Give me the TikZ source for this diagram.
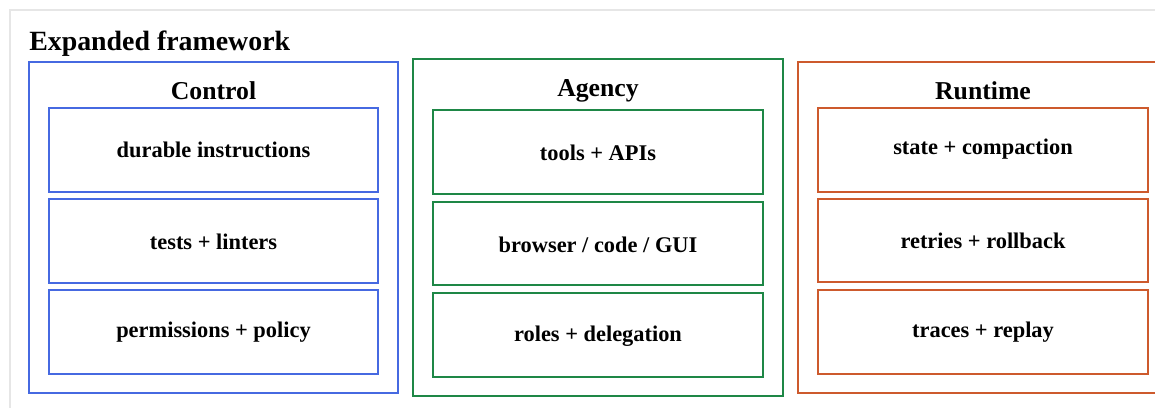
\documentclass[tikz,border=0pt]{standalone}
\usepackage{fontspec}
\setmainfont{Liberation Serif}
\definecolor{cblue}{RGB}{70,105,225}
\definecolor{cgreen}{RGB}{30,135,70}
\definecolor{corange}{RGB}{205,90,45}
\definecolor{frame}{RGB}{230,230,230}
\begin{document}
\begin{tikzpicture}[x=0.75pt,y=-0.75pt,
  titlefont/.style={font=\fontsize{20.9}{24}\selectfont\bfseries},
  headfont/.style={font=\fontsize{19.3}{22}\selectfont\bfseries},
  itemfont/.style={font=\fontsize{16.8}{19}\selectfont\bfseries},
  outerbox/.style={draw, line width=0.85pt},
  innerbox/.style={draw, line width=0.85pt},
  lbl/.style={itemfont, anchor=base, inner sep=0pt},
  ttl/.style={headfont, anchor=base, inner sep=0pt}]
\useasboundingbox (0,0) rectangle (1155,407);
\clip (0,0) rectangle (1155,407);
\fill[white] (0,0) rectangle (1155,407);
\draw[frame, line width=0.9pt] (1160,10) -- (10,10) -- (10,412);
\node[titlefont, inner sep=0pt, anchor=base west] (title) at (29,50) {Expanded framework};
% Control
\draw[outerbox, cblue] (29,62) rectangle (398,393);
\node[ttl] (control) at (213.5,99) {Control};
\draw[innerbox, cblue] (49,108) rectangle (378,192);
\draw[innerbox, cblue] (49,199) rectangle (378,283);
\draw[innerbox, cblue] (49,290) rectangle (378,374);
\node[lbl] (c1) at (213.5,157) {durable instructions};
\node[lbl] (c2) at (213.5,249) {tests + linters};
\node[lbl] (c3) at (213.5,337) {permissions + policy};
% Agency
\draw[outerbox, cgreen] (413,59) rectangle (783,396);
\node[ttl] (agency) at (598,96) {Agency};
\draw[innerbox, cgreen] (433,110) rectangle (763,194);
\draw[innerbox, cgreen] (433,202) rectangle (763,285);
\draw[innerbox, cgreen] (433,293) rectangle (763,377);
\node[lbl] (a1) at (598,160) {tools + APIs};
\node[lbl] (a2) at (598,252) {browser / code / GUI};
\node[lbl] (a3) at (598,341) {roles + delegation};
% Runtime
\draw[outerbox, corange] (798,62) rectangle (1167,393);
\node[ttl] (runtime) at (983,99) {Runtime};
\draw[innerbox, corange] (818,108) rectangle (1148,192);
\draw[innerbox, corange] (818,199) rectangle (1148,282);
\draw[innerbox, corange] (818,290) rectangle (1148,374);
\node[lbl] (r1) at (983,154) {state + compaction};
\node[lbl] (r2) at (983,248) {retries + rollback};
\node[lbl] (r3) at (983,337) {traces + replay};
\end{tikzpicture}
\end{document}
